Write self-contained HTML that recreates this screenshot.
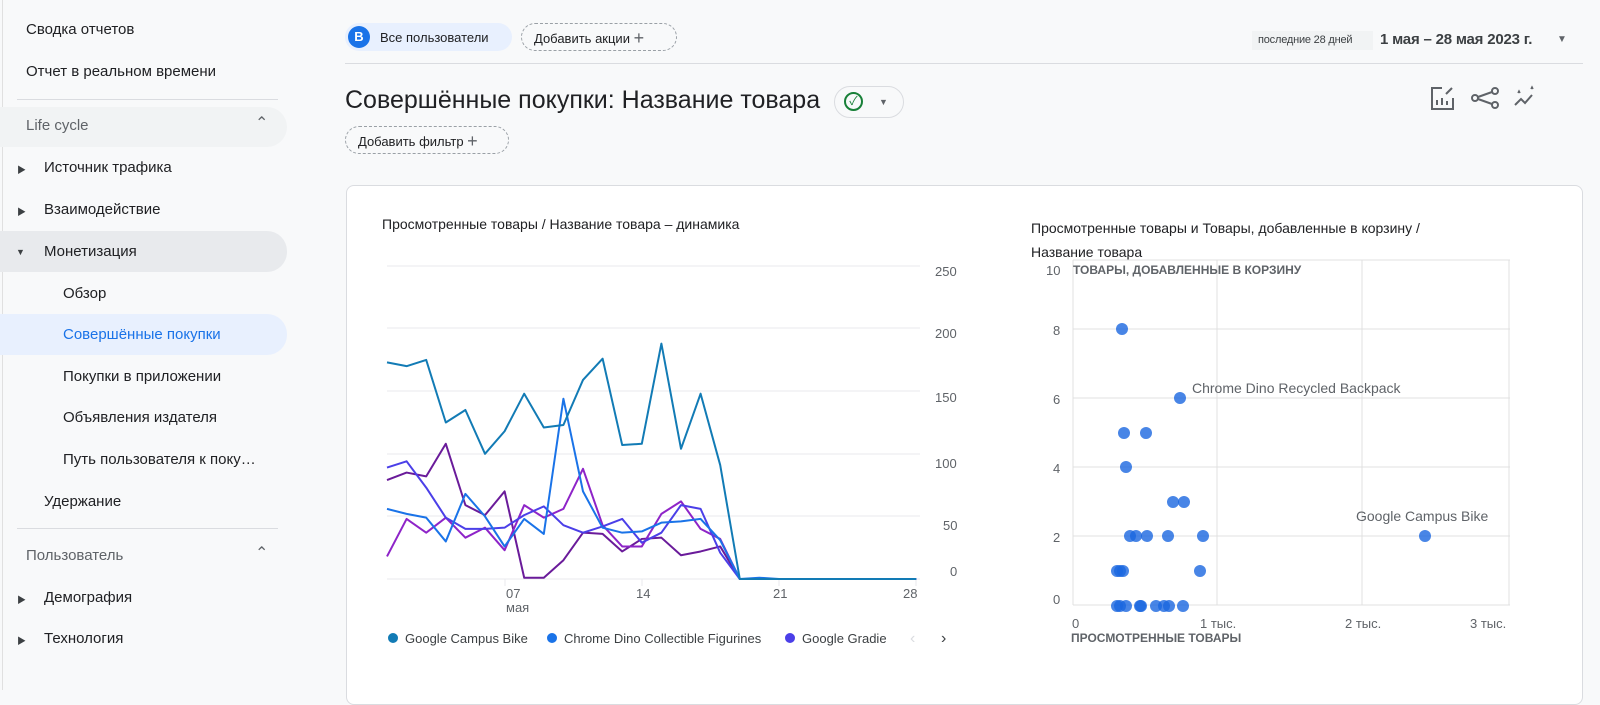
<!DOCTYPE html>
<html><head><meta charset="utf-8"><style>
*{box-sizing:border-box;margin:0;padding:0}
body{width:1600px;height:690px;overflow:hidden;background:#f8f9fa;font-family:"Liberation Sans","Noto Sans CJK SC",sans-serif;color:#202124;position:relative}
.a{position:absolute;white-space:nowrap}
.nav{font-size:15px;color:#202124}
.tri{font-size:9px;color:#3c4043}
.pill{position:absolute;border:1px dashed #9aa0a6;border-radius:14px;height:28px;font-size:13px;line-height:26px;padding:0 12px;background:#f8f9fa}
</style></head><body>
<!-- sidebar -->
<div class="a" style="left:2px;top:0;width:1px;height:690px;background:#e0e0e0"></div>
<div class="a nav" style="left:26px;top:21px">Сводка отчетов</div>
<div class="a nav" style="left:26px;top:63px">Отчет в реальном времени</div>
<div class="a" style="left:17px;top:99px;width:261px;height:1px;background:#dadce0"></div>
<div class="a" style="left:0;top:107px;width:287px;height:40px;background:#f1f3f4;border-radius:0 20px 20px 0"></div>
<div class="a nav" style="left:26px;top:117px;color:#5f6368">Life cycle</div>
<div class="a" style="left:255px;top:113px;font-size:16px;color:#5f6368">&#8963;</div>
<div class="a tri" style="left:17px;top:163px">&#9654;</div>
<div class="a nav" style="left:44px;top:159px">Источник трафика</div>
<div class="a tri" style="left:17px;top:205px">&#9654;</div>
<div class="a nav" style="left:44px;top:201px">Взаимодействие</div>
<div class="a" style="left:0;top:231px;width:287px;height:41px;background:#e8eaed;border-radius:0 20px 20px 0"></div>
<div class="a tri" style="left:16px;top:247px">&#9660;</div>
<div class="a nav" style="left:44px;top:243px">Монетизация</div>
<div class="a nav" style="left:63px;top:285px">Обзор</div>
<div class="a" style="left:0;top:314px;width:287px;height:41px;background:#e8f0fe;border-radius:0 20px 20px 0"></div>
<div class="a nav" style="left:63px;top:326px;color:#1a73e8">Совершённые покупки</div>
<div class="a nav" style="left:63px;top:368px">Покупки в приложении</div>
<div class="a nav" style="left:63px;top:409px">Объявления издателя</div>
<div class="a nav" style="left:63px;top:451px">Путь пользователя к поку…</div>
<div class="a nav" style="left:44px;top:493px">Удержание</div>
<div class="a" style="left:17px;top:528px;width:261px;height:1px;background:#dadce0"></div>
<div class="a nav" style="left:26px;top:547px;color:#5f6368">Пользователь</div>
<div class="a" style="left:255px;top:543px;font-size:16px;color:#5f6368">&#8963;</div>
<div class="a tri" style="left:17px;top:593px">&#9654;</div>
<div class="a nav" style="left:44px;top:589px">Демография</div>
<div class="a tri" style="left:17px;top:634px">&#9654;</div>
<div class="a nav" style="left:44px;top:630px">Технология</div>

<!-- top bar -->
<div class="a" style="left:345px;top:23px;width:167px;height:28px;background:#e8f0fe;border-radius:14px"></div>
<div class="a" style="left:348px;top:26px;width:22px;height:22px;border-radius:11px;background:#1a73e8;color:#fff;font-size:13px;line-height:22px;text-align:center;font-weight:bold">B</div>
<div class="a" style="left:380px;top:30px;font-size:13px">Все пользователи</div>
<div class="pill" style="left:521px;top:23px;width:156px">Добавить акции <span style="font-size:18px;color:#5f6368;position:relative;top:1px">+</span></div>
<div class="a" style="left:1252px;top:31px;width:121px;height:19px;background:#f1f3f4"></div>
<div class="a" style="left:1258px;top:34px;font-size:11px;color:#3c4043;letter-spacing:-0.2px">последние 28 дней</div>
<div class="a" style="left:1380px;top:31px;font-size:15px;color:#3c4043;font-weight:bold;letter-spacing:-0.2px">1 мая – 28 мая 2023 г.</div>
<div class="a" style="left:1557px;top:34px;font-size:10px;color:#5f6368">&#9660;</div>
<div class="a" style="left:345px;top:63px;width:1238px;height:1px;background:#dadce0"></div>
<div class="a" style="left:345px;top:86px;font-size:25px;color:#202124">Совершённые покупки: Название товара</div>
<div class="a" style="left:834px;top:86px;width:70px;height:32px;border:1px solid #dadce0;border-radius:16px;background:#f8f9fa"></div>
<div class="a" style="left:844px;top:92px;width:19px;height:19px;border:2px solid #188038;border-radius:10px;color:#188038;font-size:12px;line-height:15px;text-align:center">&#10003;</div>
<div class="a" style="left:879px;top:97px;font-size:9px;color:#5f6368">&#9660;</div>
<div class="pill" style="left:345px;top:126px;width:164px">Добавить фильтр <span style="font-size:18px;color:#5f6368;position:relative;top:1px">+</span></div>
<svg class="a" style="left:1428px;top:84px" width="110" height="30" viewBox="0 0 110 30" fill="none" stroke="#5f6368" stroke-width="2">
<path d="M14 4H4v21h21V14"/><path d="M9 21v-5M14 21v-7M19 21v-4"/><path d="M18 10l6-6"/>
<circle cx="67" cy="7" r="3"/><circle cx="47" cy="14" r="3"/><circle cx="67" cy="21" r="3"/><path d="M50 13l14-5M50 15l14 5"/>
<path d="M87 21l6-6 4 4 7-8"/><path d="M90 9l1-2 1 2M103 5l1-2 1 2" stroke-width="1.5"/>
</svg>

<!-- card -->
<div class="a" style="left:346px;top:185px;width:1237px;height:520px;background:#fff;border:1px solid #dadce0;border-radius:8px"></div>
<div class="a" style="left:382px;top:216px;font-size:14px">Просмотренные товары / Название товара – динамика</div>
<div class="a" style="left:1031px;top:216px;font-size:14px;line-height:24px">Просмотренные товары и Товары, добавленные в корзину /<br>Название товара</div>

<svg class="a" style="left:0;top:0" width="1600" height="690">
<g stroke="#e8eaed" stroke-width="1">
<line x1="387" y1="266" x2="920" y2="266"/><line x1="387" y1="328" x2="920" y2="328"/><line x1="387" y1="391" x2="920" y2="391"/><line x1="387" y1="454" x2="920" y2="454"/><line x1="387" y1="516" x2="920" y2="516"/><line x1="387" y1="579" x2="920" y2="579"/>
<line x1="505" y1="579" x2="505" y2="586"/><line x1="642" y1="579" x2="642" y2="586"/><line x1="779" y1="579" x2="779" y2="586"/><line x1="916" y1="579" x2="916" y2="586"/>
</g>
<g font-family="Liberation Sans" font-size="13" fill="#5f6368">
<text x="935" y="276">250</text><text x="935" y="338">200</text><text x="935" y="402">150</text><text x="935" y="468">100</text><text x="943" y="530">50</text><text x="950" y="576">0</text>
<text x="506" y="598">07</text><text x="506" y="612">мая</text><text x="636" y="598">14</text><text x="773" y="598">21</text><text x="903" y="598">28</text>
</g>
<g transform="translate(387,579) scale(19.6,-1.252)" fill="none" stroke-width="2" stroke-linejoin="round">
<polyline vector-effect="non-scaling-stroke" stroke="#6a1b9a" points="0,79 1,85 2,82 3,108 4,59 5,51 6,70 7,1 8,1 9,15 10,37 11,36 12,22 13,32 14,33 15,19 16,22 17,26 18,0 27,0"/>
<polyline vector-effect="non-scaling-stroke" stroke="#8e24c8" points="0,18 1,48 2,37 3,49 4,33 5,41 6,23 7,59 8,49 9,56 10,88 11,43 12,26 13,26 14,52 15,62 16,40 17,32 18,0 27,0"/>
<polyline vector-effect="non-scaling-stroke" stroke="#4b3fe8" points="0,89 1,94 2,73 3,49 4,40 5,40 6,41 7,51 8,58 9,43 10,37 11,42 12,48 13,29 14,37 15,59 16,56 17,21 18,0 27,0"/>
<polyline vector-effect="non-scaling-stroke" stroke="#1a73e8" points="0,56 1,52 2,49 3,30 4,68 5,50 6,26 7,48 8,36 9,144 10,70 11,41 12,37 13,38 14,45 15,46 16,48 17,31 18,0 19,1 20,0 27,0"/>
<polyline vector-effect="non-scaling-stroke" stroke="#127bb5" points="0,173 1,170 2,175 3,125 4,135 5,100 6,118 7,148 8,121 9,123 10,159 11,176 12,107 13,108 14,188 15,104 16,148 17,91 18,0 27,0"/>
</g>
<g font-family="Liberation Sans" font-size="13" fill="#3c4043">
<circle cx="393" cy="638" r="5" fill="#127bb5"/><text x="405" y="643">Google Campus Bike</text>
<circle cx="552" cy="638" r="5" fill="#1a73e8"/><text x="564" y="643">Chrome Dino Collectible Figurines</text>
<circle cx="790" cy="638" r="5" fill="#4b3fe8"/><text x="802" y="643">Google Gradie</text>
<text x="910" y="643" fill="#dadce0" font-size="16">‹</text><text x="941" y="643" font-size="16">›</text>
</g>
<!-- scatter -->
<g stroke="#e0e0e0" stroke-width="1">
<line x1="1073" y1="260" x2="1510" y2="260"/><line x1="1073" y1="329" x2="1510" y2="329"/><line x1="1073" y1="398" x2="1510" y2="398"/><line x1="1073" y1="467" x2="1510" y2="467"/><line x1="1073" y1="536" x2="1510" y2="536"/><line x1="1073" y1="605" x2="1510" y2="605"/>
<line x1="1073" y1="260" x2="1073" y2="605"/><line x1="1217" y1="260" x2="1217" y2="605"/><line x1="1362" y1="260" x2="1362" y2="605"/><line x1="1509" y1="260" x2="1509" y2="605"/>
</g>
<g font-family="Liberation Sans" font-size="13" fill="#5f6368">
<text x="1046" y="275">10</text><text x="1053" y="335">8</text><text x="1053" y="404">6</text><text x="1053" y="473">4</text><text x="1053" y="542">2</text><text x="1053" y="604">0</text>
<text x="1072" y="628">0</text><text x="1200" y="628">1 тыс.</text><text x="1345" y="628">2 тыс.</text><text x="1470" y="628">3 тыс.</text>
<text x="1073" y="274" font-weight="bold" font-size="12" fill="#5f6368">ТОВАРЫ, ДОБАВЛЕННЫЕ В КОРЗИНУ</text>
<text x="1071" y="642" font-weight="bold" font-size="12">ПРОСМОТРЕННЫЕ ТОВАРЫ</text>
<text x="1192" y="393" font-size="14">Chrome Dino Recycled Backpack</text>
<text x="1356" y="521" font-size="14">Google Campus Bike</text>
</g>
<g fill="#1a66e0" fill-opacity="0.8">
<circle cx="1122" cy="329" r="6"/><circle cx="1180" cy="398" r="6"/>
<circle cx="1124" cy="433" r="6"/><circle cx="1146" cy="433" r="6"/><circle cx="1126" cy="467" r="6"/>
<circle cx="1173" cy="502" r="6"/><circle cx="1184" cy="502" r="6"/>
<circle cx="1130" cy="536" r="6"/><circle cx="1136" cy="536" r="6"/><circle cx="1147" cy="536" r="6"/><circle cx="1168" cy="536" r="6"/><circle cx="1203" cy="536" r="6"/><circle cx="1425" cy="536" r="6"/>
<circle cx="1117" cy="571" r="6"/><circle cx="1120" cy="571" r="6"/><circle cx="1123" cy="571" r="6"/><circle cx="1200" cy="571" r="6"/>
<circle cx="1117" cy="606" r="6"/><circle cx="1120" cy="606" r="6"/><circle cx="1126" cy="606" r="6"/><circle cx="1140" cy="606" r="6"/><circle cx="1141" cy="606" r="6"/><circle cx="1156" cy="606" r="6"/><circle cx="1164" cy="606" r="6"/><circle cx="1169" cy="606" r="6"/><circle cx="1183" cy="606" r="6"/>
</g>
</svg>
</body></html>
